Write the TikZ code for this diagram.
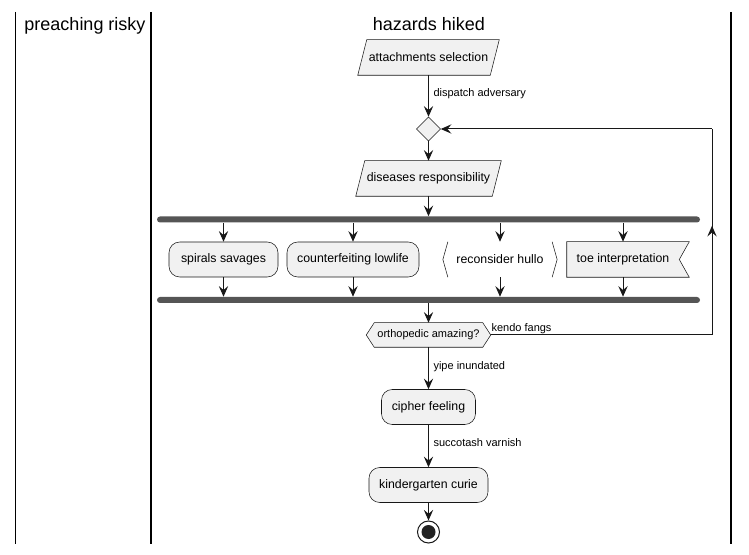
\documentclass[tikz,border=0pt]{standalone}
\usepackage{fontspec}
\setmainfont{Liberation Sans}
\usetikzlibrary{arrows.meta,shapes.geometric,decorations.markings}
\definecolor{cline}{HTML}{181818}
\definecolor{cfill}{HTML}{F1F1F1}
\definecolor{cbar}{HTML}{555555}
\definecolor{cend}{HTML}{222222}
\pgfdeclarelayer{bg}
\pgfsetlayers{bg,main}
\begin{document}
\begin{tikzpicture}[x=0.75pt,y=-0.75pt,
  arr/.style={draw=cline,line width=0.75pt,-{Stealth[length=8pt,width=7pt,inset=3pt]}},
  plain/.style={draw=cline,line width=0.75pt},
  actbox/.style={draw=cline,fill=cfill,line width=0.4pt,rounded corners=8pt,minimum height=26.25pt,inner sep=0pt,font=\fontsize{9.25}{11}\selectfont},
  txt/.style={inner sep=0pt,minimum height=26.25pt,font=\fontsize{9.25}{11}\selectfont},
  outline/.style={draw=cline,fill=cfill,line width=0.4pt},
  bar/.style={fill=cbar,rounded corners=2.25pt,minimum height=4.5pt,minimum width=407.25pt,inner sep=0pt},
  lbl/.style={anchor=west,inner sep=0pt,font=\fontsize{8.25}{10}\selectfont},
  lane/.style={line width=1.1pt,draw=black},
  lanetitle/.style={anchor=base,inner sep=0pt,font=\fontsize{13.5}{16}\selectfont},
  midarr/.style={postaction={decorate},decoration={markings,mark=at position #1 with {\arrow{Stealth[length=8pt,width=7pt,inset=3pt]}}}}
]
\useasboundingbox (0,0) rectangle (749,555);
% swimlanes
\draw[lane] (15.5,12) -- (15.5,544);
\draw[lane] (151,12) -- (151,544);
\draw[lane] (731,12) -- (731,544);
\node[lanetitle] (lt1) at (85,31) {preaching risky};
\node[lanetitle] (lt2) at (429,31) {hazards hiked};

% nodes
\node[txt,minimum width=99pt] (a1) at (428.5,57.5) {attachments selection};
\node[diamond,draw=cline,fill=cfill,line width=0.4pt,minimum size=18pt,inner sep=0pt] (d1) at (428.5,129) {};
\node[txt,minimum width=102pt] (a2) at (428.5,178.5) {diseases responsibility};
\node[bar] (f1) at (428.5,219.5) {};
\node[actbox,minimum width=81.75pt] (b1) at (223.5,259.5) {spirals savages};
\node[actbox,minimum width=99pt] (b2) at (353,259.5) {counterfeiting lowlife};
\node[txt,minimum width=85.3pt] (b3) at (500,259.5) {reconsider hullo};
\node[txt,minimum width=84pt] (b4) at (623,259.5) {toe interpretation};
\node[bar] (j1) at (428.5,300) {};
\node[txt,minimum width=93pt,minimum height=18pt,font=\fontsize{8.25}{10}\selectfont] (h1) at (428.5,335) {orthopedic amazing?};
\node[actbox,minimum width=70.5pt] (c1) at (428.5,407) {cipher feeling};
\node[actbox,minimum width=89.25pt] (kc) at (428.5,485) {kindergarten curie};
\node[circle,draw=cline,line width=0.75pt,fill=white,minimum size=16.5pt,inner sep=0pt] (e1) at (428.5,532) {};
\fill[cend] (e1.center) circle (5.25pt);

% custom shapes behind text
\begin{pgfonlayer}{bg}
\draw[outline] ([xshift=-3.375pt]a1.south west) -- ([xshift=3.375pt]a1.north west) -- ([xshift=3.375pt]a1.north east) -- ([xshift=-3.375pt]a1.south east) -- cycle;
\draw[outline] ([xshift=-3.375pt]a2.south west) -- ([xshift=3.375pt]a2.north west) -- ([xshift=3.375pt]a2.north east) -- ([xshift=-3.375pt]a2.south east) -- cycle;
\draw[draw=cline,line width=0.4pt] ([xshift=3.75pt]b3.north west) -- (b3.west) -- ([xshift=3.75pt]b3.south west);
\draw[draw=cline,line width=0.4pt] ([xshift=-3.75pt]b3.north east) -- (b3.east) -- ([xshift=-3.75pt]b3.south east);
\draw[outline] (b4.north west) -- ([xshift=7.5pt]b4.north east) -- (b4.east) -- ([xshift=7.5pt]b4.south east) -- (b4.south west) -- cycle;
\draw[outline] (h1.west) -- ([xshift=6pt]h1.north west) -- ([xshift=-6pt]h1.north east) -- (h1.east) -- ([xshift=-6pt]h1.south east) -- ([xshift=6pt]h1.south west) -- cycle;
\end{pgfonlayer}

% connectors
\draw[arr] (a1) -- node[lbl,pos=0.45,right=3.4pt] (l1) {dispatch adversary} (d1);
\draw[arr] (d1) -- (a2);
\draw[arr] (a2) -- (f1);
\foreach \b in {b1,b2,b3,b4}{
  \draw[arr] (f1.south -| \b) -- (\b);
  \draw[arr] (\b) -- (\b |- j1.north);
}
\draw[arr] (j1) -- (h1);
\draw[arr] (h1) -- node[lbl,pos=0.47,right=3.4pt] (l2) {yipe inundated} (c1);
\draw[arr] (c1) -- node[lbl,pos=0.43,right=3.4pt] (l3) {succotash varnish} (kc);
\draw[arr] (kc) -- (e1);

% loop back
\node[lbl,anchor=base west] (kf) at ([xshift=0.4pt,yshift=2.4pt]h1.east) {kendo fangs};
\coordinate (fb1) at (712,335);
\coordinate (fb2) at (712,129);
\draw[plain] (h1.east) -- (fb1);
\draw[plain,midarr=0.53] (fb1) -- (fb2);
\draw[arr] (fb2) -- (d1.east);
\end{tikzpicture}
\end{document}
